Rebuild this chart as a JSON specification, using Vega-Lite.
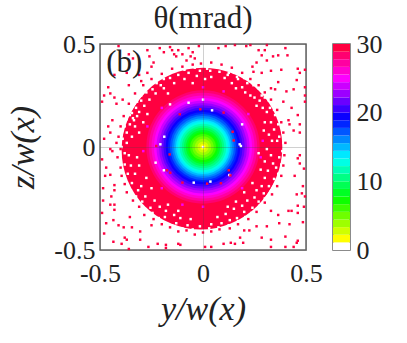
{"$schema":"https://vega.github.io/schema/vega-lite/v6.json","background":"white","padding":{"left":6,"top":2,"right":0,"bottom":0},
"config":{"view":{"stroke":"#666","strokeWidth":1.5},"axis":{"labelFont":"Liberation Serif","titleFont":"Liberation Serif","labelColor":"#222","titleColor":"#222","grid":false,"domain":false}},
"datasets":{
"rings":[{"y":-0.01,"z":-0.015,"r":0.385,"t":29.4},{"y":0,"z":0,"r":0.385,"t":29.4},{"y":0,"z":0,"r":0.275,"t":28.3},{"y":0,"z":0,"r":0.263,"t":27.2},{"y":0,"z":0,"r":0.25,"t":26.1},{"y":0,"z":0,"r":0.238,"t":25},{"y":0,"z":0,"r":0.226,"t":23.9},{"y":0,"z":0,"r":0.214,"t":22.8},{"y":0,"z":0,"r":0.203,"t":21.7},{"y":0,"z":0,"r":0.192,"t":20.5},{"y":0,"z":0,"r":0.181,"t":19.4},{"y":0,"z":0,"r":0.17,"t":18.3},{"y":0,"z":0,"r":0.16,"t":17.2},{"y":0,"z":0,"r":0.15,"t":16.1},{"y":0,"z":0,"r":0.14,"t":15},{"y":0,"z":0,"r":0.131,"t":13.9},{"y":0,"z":0,"r":0.122,"t":12.8},{"y":0,"z":0,"r":0.113,"t":11.7},{"y":0,"z":0,"r":0.103,"t":10.5},{"y":0,"z":0,"r":0.093,"t":9.4},{"y":0,"z":0,"r":0.083,"t":8.3},{"y":0,"z":0,"r":0.073,"t":7.2},{"y":0,"z":0,"r":0.063,"t":6.1},{"y":0,"z":0,"r":0.052,"t":5},{"y":0,"z":0,"r":0.04,"t":3.9},{"y":0,"z":0,"r":0.027,"t":2.8},{"y":0,"z":0,"r":0.014,"t":1.7}],
"bar":[{"a":0,"b":1.11,"t":0.5},{"a":1.11,"b":2.22,"t":1.7},{"a":2.22,"b":3.33,"t":2.8},{"a":3.33,"b":4.44,"t":3.9},{"a":4.44,"b":5.56,"t":5},{"a":5.56,"b":6.67,"t":6.1},{"a":6.67,"b":7.78,"t":7.2},{"a":7.78,"b":8.89,"t":8.3},{"a":8.89,"b":10,"t":9.4},{"a":10,"b":11.11,"t":10.5},{"a":11.11,"b":12.22,"t":11.7},{"a":12.22,"b":13.33,"t":12.8},{"a":13.33,"b":14.44,"t":13.9},{"a":14.44,"b":15.56,"t":15},{"a":15.56,"b":16.67,"t":16.1},{"a":16.67,"b":17.78,"t":17.2},{"a":17.78,"b":18.89,"t":18.3},{"a":18.89,"b":20,"t":19.4},{"a":20,"b":21.11,"t":20.5},{"a":21.11,"b":22.22,"t":21.7},{"a":22.22,"b":23.33,"t":22.8},{"a":23.33,"b":24.44,"t":23.9},{"a":24.44,"b":25.56,"t":25},{"a":25.56,"b":26.67,"t":26.1},{"a":26.67,"b":27.78,"t":27.2},{"a":27.78,"b":28.89,"t":28.3},{"a":28.89,"b":30,"t":29.4}],
"cells":[
{"y":0.02,"z":0.38,"t":0},{"y":0.035,"z":0.37,"t":0},{"y":0.06,"z":0.39,"t":0},{"y":0.08,"z":0.365,"t":0},{"y":0.115,"z":0.38,"t":0},{"y":0.125,"z":0.36,"t":0},{"y":0.15,"z":0.36,"t":0},{"y":0.165,"z":0.34,"t":0},{"y":0.17,"z":0.33,"t":0},{"y":0.2,"z":0.335,"t":0},{"y":0.215,"z":0.31,"t":0},{"y":0.24,"z":0.31,"t":0},{"y":0.245,"z":0.3,"t":0},{"y":0.27,"z":0.285,"t":0},{"y":0.285,"z":0.25,"t":0},{"y":0.3,"z":0.24,"t":0},{"y":0.32,"z":0.225,"t":0},{"y":0.325,"z":0.19,"t":0},{"y":0.345,"z":0.18,"t":0},{"y":0.35,"z":0.155,"t":0},{"y":0.37,"z":0.14,"t":0},{"y":0.365,"z":0.11,"t":0},{"y":0.385,"z":0.07,"t":0},{"y":0.37,"z":0.05,"t":0},{"y":0.39,"z":0.02,"t":0},
{"y":0.04,"z":0.34,"t":0},{"y":0.105,"z":0.335,"t":0},{"y":0.14,"z":0.31,"t":0},{"y":0.19,"z":0.29,"t":0},{"y":0.205,"z":0.265,"t":0},{"y":0.23,"z":0.25,"t":0},{"y":0.275,"z":0.225,"t":0},{"y":0.29,"z":0.19,"t":0},{"y":0.31,"z":0.17,"t":0},{"y":0.33,"z":0.12,"t":0},{"y":0.345,"z":0.085,"t":0},{"y":0.36,"z":0.03,"t":0},{"y":0.16,"z":0.285,"t":0},{"y":0.26,"z":0.2,"t":0},{"y":0.3,"z":0.12,"t":0},{"y":0.32,"z":0.06,"t":0},{"y":0.335,"z":0.03,"t":0},{"y":0.295,"z":0.08,"t":0},{"y":0.25,"z":0.24,"t":0},{"y":0.12,"z":0.35,"t":0},
{"y":0.385,"z":-0.02,"t":0},{"y":0.37,"z":-0.05,"t":0},{"y":0.38,"z":-0.085,"t":0},{"y":0.355,"z":-0.1,"t":0},{"y":0.365,"z":-0.13,"t":0},{"y":0.345,"z":-0.155,"t":0},{"y":0.35,"z":-0.18,"t":0},{"y":0.32,"z":-0.19,"t":0},{"y":0.33,"z":-0.215,"t":0},{"y":0.295,"z":-0.225,"t":0},{"y":0.3,"z":-0.25,"t":0},{"y":0.27,"z":-0.265,"t":0},{"y":0.275,"z":-0.285,"t":0},{"y":0.24,"z":-0.295,"t":0},{"y":0.235,"z":-0.32,"t":0},{"y":0.2,"z":-0.315,"t":0},{"y":0.205,"z":-0.34,"t":0},{"y":0.165,"z":-0.345,"t":0},{"y":0.17,"z":-0.36,"t":0},{"y":0.13,"z":-0.355,"t":0},{"y":0.125,"z":-0.38,"t":0},{"y":0.09,"z":-0.37,"t":0},{"y":0.075,"z":-0.39,"t":0},{"y":0.04,"z":-0.375,"t":0},{"y":0.03,"z":-0.395,"t":0},
{"y":0.33,"z":-0.04,"t":0},{"y":0.34,"z":-0.08,"t":0},{"y":0.315,"z":-0.115,"t":0},{"y":0.3,"z":-0.15,"t":0},{"y":0.285,"z":-0.19,"t":0},{"y":0.26,"z":-0.21,"t":0},{"y":0.25,"z":-0.245,"t":0},{"y":0.215,"z":-0.26,"t":0},{"y":0.19,"z":-0.285,"t":0},{"y":0.15,"z":-0.3,"t":0},{"y":0.11,"z":-0.325,"t":0},{"y":0.07,"z":-0.34,"t":0},{"y":0.3,"z":-0.07,"t":0},{"y":0.28,"z":-0.11,"t":0},{"y":0.24,"z":-0.175,"t":0},{"y":0.2,"z":-0.22,"t":0},{"y":0.16,"z":-0.265,"t":0},{"y":0.12,"z":-0.29,"t":0},{"y":0.31,"z":-0.01,"t":0},{"y":0.27,"z":-0.03,"t":0},
{"y":-0.015,"z":-0.385,"t":0},{"y":-0.05,"z":-0.4,"t":0},{"y":-0.075,"z":-0.38,"t":0},{"y":-0.1,"z":-0.395,"t":0},{"y":-0.13,"z":-0.37,"t":0},{"y":-0.165,"z":-0.38,"t":0},{"y":-0.185,"z":-0.34,"t":0},{"y":-0.215,"z":-0.345,"t":0},{"y":-0.245,"z":-0.32,"t":0},{"y":-0.255,"z":-0.295,"t":0},{"y":-0.29,"z":-0.3,"t":0},{"y":-0.295,"z":-0.265,"t":0},{"y":-0.325,"z":-0.24,"t":0},{"y":-0.315,"z":-0.21,"t":0},{"y":-0.35,"z":-0.21,"t":0},{"y":-0.345,"z":-0.175,"t":0},{"y":-0.375,"z":-0.165,"t":0},{"y":-0.365,"z":-0.13,"t":0},{"y":-0.39,"z":-0.12,"t":0},{"y":-0.38,"z":-0.085,"t":0},{"y":-0.4,"z":-0.06,"t":0},{"y":-0.38,"z":-0.03,"t":0},
{"y":-0.06,"z":-0.35,"t":0},{"y":-0.11,"z":-0.345,"t":0},{"y":-0.14,"z":-0.33,"t":0},{"y":-0.18,"z":-0.31,"t":0},{"y":-0.21,"z":-0.29,"t":0},{"y":-0.235,"z":-0.26,"t":0},{"y":-0.28,"z":-0.24,"t":0},{"y":-0.3,"z":-0.19,"t":0},{"y":-0.33,"z":-0.13,"t":0},{"y":-0.35,"z":-0.09,"t":0},{"y":-0.36,"z":-0.04,"t":0},{"y":-0.12,"z":-0.31,"t":0},{"y":-0.17,"z":-0.28,"t":0},{"y":-0.25,"z":-0.2,"t":0},{"y":-0.31,"z":-0.09,"t":0},{"y":-0.32,"z":-0.05,"t":0},{"y":-0.275,"z":-0.15,"t":0},
{"y":-0.395,"z":0,"t":0},{"y":-0.37,"z":0.02,"t":0},{"y":-0.39,"z":0.04,"t":0},{"y":-0.37,"z":0.07,"t":0},{"y":-0.38,"z":0.1,"t":0},{"y":-0.355,"z":0.11,"t":0},{"y":-0.37,"z":0.135,"t":0},{"y":-0.345,"z":0.165,"t":0},{"y":-0.35,"z":0.185,"t":0},{"y":-0.325,"z":0.19,"t":0},{"y":-0.32,"z":0.22,"t":0},{"y":-0.3,"z":0.225,"t":0},{"y":-0.3,"z":0.25,"t":0},{"y":-0.275,"z":0.265,"t":0},{"y":-0.27,"z":0.29,"t":0},{"y":-0.245,"z":0.28,"t":0},{"y":-0.225,"z":0.31,"t":0},{"y":-0.205,"z":0.3,"t":0},{"y":-0.19,"z":0.33,"t":0},{"y":-0.16,"z":0.335,"t":0},{"y":-0.15,"z":0.365,"t":0},{"y":-0.12,"z":0.35,"t":0},{"y":-0.09,"z":0.375,"t":0},{"y":-0.07,"z":0.36,"t":0},{"y":-0.04,"z":0.385,"t":0},{"y":-0.015,"z":0.37,"t":0},
{"y":-0.345,"z":0.05,"t":0},{"y":-0.33,"z":0.1,"t":0},{"y":-0.34,"z":0.14,"t":0},{"y":-0.32,"z":0.15,"t":0},{"y":-0.355,"z":0.155,"t":0},{"y":-0.335,"z":0.13,"t":0},{"y":-0.31,"z":0.17,"t":0},{"y":-0.285,"z":0.2,"t":0},{"y":-0.26,"z":0.23,"t":0},{"y":-0.23,"z":0.26,"t":0},{"y":-0.19,"z":0.285,"t":0},{"y":-0.14,"z":0.31,"t":0},{"y":-0.09,"z":0.33,"t":0},{"y":-0.03,"z":0.345,"t":0},{"y":-0.31,"z":0.07,"t":0},{"y":-0.29,"z":0.12,"t":0},{"y":-0.27,"z":0.16,"t":0},{"y":-0.17,"z":0.26,"t":0},{"y":-0.05,"z":0.31,"t":0},{"y":0.01,"z":0.33,"t":0},
{"y":-0.23,"z":-0.076,"t":0},{"y":-0.19,"z":-0.113,"t":0},{"y":-0.207,"z":0.013,"t":0},{"y":-0.188,"z":0.05,"t":0},{"y":-0.045,"z":-0.173,"t":0},{"y":0.036,"z":-0.168,"t":0},{"y":0.128,"z":-0.136,"t":0},{"y":0.178,"z":0.013,"t":0},{"y":0.184,"z":0.005,"t":0},{"y":0.19,"z":0.11,"t":0},{"y":0.044,"z":0.178,"t":0},{"y":-0.07,"z":0.215,"t":0},{"y":0,"z":0.23,"t":0},{"y":-0.16,"z":0.207,"t":0},{"y":0,"z":0,"t":0},
{"y":0.144,"z":0.074,"t":30},{"y":0.149,"z":0.032,"t":30},{"y":-0.175,"z":-0.113,"t":30},{"y":-0.159,"z":-0.125,"t":30},{"y":0.125,"z":-0.113,"t":30},{"y":0.087,"z":-0.176,"t":30},{"y":0.02,"z":-0.178,"t":30},{"y":-0.1,"z":-0.173,"t":30},{"y":-0.013,"z":0.183,"t":30},{"y":0.1,"z":0.167,"t":30},{"y":-0.113,"z":0.159,"t":30},{"y":-0.227,"z":0.005,"t":30},{"y":0.133,"z":-0.138,"t":30},{"y":-0.162,"z":-0.036,"t":30},
{"y":-0.27,"z":0.1,"t":25},{"y":0.28,"z":-0.05,"t":25},{"y":0.1,"z":0.27,"t":25},{"y":-0.1,"z":-0.28,"t":25},{"y":0.22,"z":0.16,"t":25},{"y":-0.2,"z":-0.2,"t":25},{"y":0.19,"z":-0.2,"t":25},{"y":-0.2,"z":0.19,"t":25},{"y":-0.29,"z":-0.02,"t":25},{"y":0,"z":0.29,"t":25},{"y":0,"z":-0.29,"t":25},{"y":0.29,"z":0.03,"t":25},
{"y":-0.41,"z":0.05,"t":30},{"y":-0.4,"z":-0.01,"t":30},{"y":-0.415,"z":-0.05,"t":30},{"y":-0.4,"z":-0.1,"t":30},{"y":-0.395,"z":-0.14,"t":30},{"y":-0.38,"z":-0.18,"t":30},{"y":-0.37,"z":-0.22,"t":30},{"y":-0.34,"z":-0.26,"t":30},{"y":-0.31,"z":-0.29,"t":30},{"y":-0.285,"z":-0.33,"t":30},{"y":-0.24,"z":-0.35,"t":30},{"y":-0.2,"z":-0.375,"t":30},{"y":-0.16,"z":-0.39,"t":30},{"y":-0.12,"z":-0.41,"t":30},{"y":-0.08,"z":-0.405,"t":30},{"y":-0.04,"z":-0.425,"t":30},{"y":0,"z":-0.415,"t":30},{"y":0.04,"z":-0.41,"t":30},{"y":0.08,"z":-0.4,"t":30},{"y":0.13,"z":-0.395,"t":30},{"y":0.17,"z":-0.375,"t":30},{"y":0.22,"z":-0.35,"t":30},{"y":0.26,"z":-0.315,"t":30},{"y":0.3,"z":-0.27,"t":30},{"y":0.335,"z":-0.23,"t":30},{"y":0.36,"z":-0.19,"t":30},{"y":0.38,"z":-0.14,"t":30},{"y":0.39,"z":-0.09,"t":30},{"y":0.395,"z":-0.04,"t":30},{"y":0.4,"z":0.02,"t":30},{"y":0.39,"z":0.07,"t":30},{"y":0.38,"z":0.12,"t":30},{"y":0.36,"z":0.18,"t":30},{"y":0.33,"z":0.23,"t":30},{"y":0.3,"z":0.265,"t":30},{"y":0.27,"z":0.3,"t":30},{"y":0.23,"z":0.33,"t":30},{"y":0.19,"z":0.36,"t":30},{"y":0.14,"z":0.385,"t":30},{"y":0.09,"z":0.4,"t":30},{"y":0.04,"z":0.41,"t":30},{"y":-0.01,"z":0.405,"t":30},{"y":-0.05,"z":0.4,"t":30},{"y":-0.1,"z":0.39,"t":30},{"y":-0.15,"z":0.38,"t":30},{"y":-0.2,"z":0.355,"t":30},{"y":-0.25,"z":0.33,"t":30},{"y":-0.29,"z":0.3,"t":30},{"y":-0.33,"z":0.26,"t":30},{"y":-0.36,"z":0.21,"t":30},{"y":-0.385,"z":0.15,"t":30},{"y":-0.4,"z":0.1,"t":30},
{"y":-0.41,"z":0.49,"t":30},{"y":-0.36,"z":0.45,"t":30},{"y":-0.34,"z":0.43,"t":30},{"y":-0.27,"z":0.47,"t":30},{"y":-0.26,"z":0.44,"t":30},{"y":-0.24,"z":0.41,"t":30},{"y":-0.21,"z":0.48,"t":30},{"y":-0.19,"z":0.46,"t":30},{"y":-0.16,"z":0.485,"t":30},{"y":-0.15,"z":0.47,"t":30},{"y":-0.14,"z":0.45,"t":30},{"y":-0.13,"z":0.44,"t":30},{"y":-0.12,"z":0.47,"t":30},{"y":-0.1,"z":0.45,"t":30},{"y":-0.08,"z":0.42,"t":30},{"y":-0.07,"z":0.48,"t":30},{"y":-0.06,"z":0.44,"t":30},{"y":-0.05,"z":0.46,"t":30},{"y":-0.04,"z":0.43,"t":30},{"y":-0.02,"z":0.49,"t":30},{"y":-0.25,"z":0.39,"t":30},{"y":-0.43,"z":0.35,"t":30},{"y":-0.46,"z":0.29,"t":30},{"y":-0.48,"z":0.25,"t":30},{"y":-0.45,"z":0.26,"t":30},{"y":-0.43,"z":0.24,"t":30},{"y":-0.49,"z":0.22,"t":30},{"y":-0.42,"z":0.21,"t":30},{"y":-0.39,"z":0.23,"t":30},{"y":-0.36,"z":0.3,"t":30},{"y":-0.37,"z":0.36,"t":30},{"y":-0.31,"z":0.35,"t":30},{"y":-0.3,"z":0.32,"t":30},{"y":-0.27,"z":0.36,"t":30},{"y":-0.44,"z":0.13,"t":30},{"y":-0.46,"z":0.1,"t":30},{"y":-0.48,"z":0.04,"t":30},{"y":-0.45,"z":0.07,"t":30},{"y":-0.42,"z":0.02,"t":30},{"y":-0.44,"z":-0.02,"t":30},
{"y":0.11,"z":0.49,"t":30},{"y":0.075,"z":0.48,"t":30},{"y":0.155,"z":0.495,"t":30},{"y":0.21,"z":0.49,"t":30},{"y":0.23,"z":0.495,"t":30},{"y":0.31,"z":0.495,"t":30},{"y":0.4,"z":0.48,"t":30},{"y":0.27,"z":0.47,"t":30},{"y":0.3,"z":0.47,"t":30},{"y":0.285,"z":0.445,"t":30},{"y":0.365,"z":0.445,"t":30},{"y":0.34,"z":0.44,"t":30},{"y":0.26,"z":0.41,"t":30},{"y":0.31,"z":0.42,"t":30},{"y":0.41,"z":0.445,"t":30},{"y":0.24,"z":0.39,"t":30},{"y":0.46,"z":0.38,"t":30},{"y":0.495,"z":0.375,"t":30},{"y":0.38,"z":0.375,"t":30},{"y":0.33,"z":0.37,"t":30},{"y":0.285,"z":0.36,"t":30},{"y":0.245,"z":0.365,"t":30},{"y":0.47,"z":0.36,"t":30},{"y":0.455,"z":0.325,"t":30},{"y":0.365,"z":0.315,"t":30},{"y":0.495,"z":0.29,"t":30},{"y":0.405,"z":0.27,"t":30},{"y":0.44,"z":0.28,"t":30},{"y":0.33,"z":0.285,"t":30},{"y":0.35,"z":0.28,"t":30},{"y":0.495,"z":0.25,"t":30},{"y":0.495,"z":0.22,"t":30},{"y":0.39,"z":0.22,"t":30},{"y":0.43,"z":0.19,"t":30},{"y":0.46,"z":0.155,"t":30},{"y":0.47,"z":0.11,"t":30},{"y":0.415,"z":0.13,"t":30},{"y":0.44,"z":0.08,"t":30},{"y":0.42,"z":0.11,"t":30},{"y":0.47,"z":0.07,"t":30},
{"y":-0.45,"z":-0.01,"t":30},{"y":-0.49,"z":-0.06,"t":30},{"y":-0.47,"z":-0.1,"t":30},{"y":-0.475,"z":-0.14,"t":30},{"y":-0.45,"z":-0.135,"t":30},{"y":-0.43,"z":-0.185,"t":30},{"y":-0.485,"z":-0.2,"t":30},{"y":-0.43,"z":-0.21,"t":30},{"y":-0.485,"z":-0.26,"t":30},{"y":-0.445,"z":-0.24,"t":30},{"y":-0.45,"z":-0.28,"t":30},{"y":-0.43,"z":-0.28,"t":30},{"y":-0.49,"z":-0.32,"t":30},{"y":-0.43,"z":-0.305,"t":30},{"y":-0.355,"z":-0.34,"t":30},{"y":-0.47,"z":-0.37,"t":30},{"y":-0.435,"z":-0.355,"t":30},{"y":-0.41,"z":-0.38,"t":30},{"y":-0.385,"z":-0.39,"t":30},{"y":-0.48,"z":-0.42,"t":30},{"y":-0.345,"z":-0.39,"t":30},{"y":-0.305,"z":-0.41,"t":30},{"y":-0.435,"z":-0.46,"t":30},{"y":-0.38,"z":-0.44,"t":30},{"y":-0.395,"z":-0.47,"t":30},{"y":-0.37,"z":-0.45,"t":30},{"y":-0.36,"z":-0.495,"t":30},{"y":-0.305,"z":-0.45,"t":30},{"y":-0.265,"z":-0.485,"t":30},{"y":-0.22,"z":-0.47,"t":30},{"y":-0.18,"z":-0.475,"t":30},{"y":-0.12,"z":-0.47,"t":30},{"y":-0.11,"z":-0.475,"t":30},{"y":-0.18,"z":-0.49,"t":30},{"y":-0.25,"z":-0.38,"t":30},
{"y":0.47,"z":-0.04,"t":30},{"y":0.46,"z":-0.055,"t":30},{"y":0.47,"z":-0.08,"t":30},{"y":0.49,"z":-0.105,"t":30},{"y":0.445,"z":-0.14,"t":30},{"y":0.485,"z":-0.19,"t":30},{"y":0.48,"z":-0.225,"t":30},{"y":0.495,"z":-0.24,"t":30},{"y":0.455,"z":-0.23,"t":30},{"y":0.46,"z":-0.285,"t":30},{"y":0.49,"z":-0.29,"t":30},{"y":0.415,"z":-0.31,"t":30},{"y":0.43,"z":-0.31,"t":30},{"y":0.46,"z":-0.32,"t":30},{"y":0.365,"z":-0.33,"t":30},{"y":0.33,"z":-0.31,"t":30},{"y":0.42,"z":-0.375,"t":30},{"y":0.485,"z":-0.365,"t":30},{"y":0.37,"z":-0.37,"t":30},{"y":0.31,"z":-0.385,"t":30},{"y":0.26,"z":-0.385,"t":30},{"y":0.285,"z":-0.44,"t":30},{"y":0.2,"z":-0.405,"t":30},{"y":0.33,"z":-0.45,"t":30},{"y":0.4,"z":-0.435,"t":30},{"y":0.46,"z":-0.455,"t":30},{"y":0.455,"z":-0.465,"t":30},{"y":0.33,"z":-0.485,"t":30},{"y":0.4,"z":-0.485,"t":30},{"y":0.44,"z":-0.485,"t":30},{"y":0.195,"z":-0.465,"t":30},{"y":0.18,"z":-0.44,"t":30},{"y":0.155,"z":-0.47,"t":30},{"y":0.135,"z":-0.465,"t":30},{"y":0.1,"z":-0.47,"t":30},{"y":0.04,"z":-0.485,"t":30},{"y":0.01,"z":-0.485,"t":30},{"y":0.225,"z":-0.405,"t":30}
]},
"hconcat":[{
"width":206,"height":206,
"title":{"text":"θ(mrad)","font":"Liberation Serif","fontSize":31,"fontWeight":"normal","color":"#222","anchor":"middle","offset":-4},
"encoding":{
"x":{"field":"y","type":"quantitative","scale":{"domain":[-0.5,0.5],"nice":false},"axis":{"title":"y/w(x)","titleFontStyle":"italic","titleFontSize":34,"titleFontWeight":"normal","labelFontSize":26,"values":[-0.5,0,0.5],"labelExpr":"datum.value<0?'-0.5':datum.value>0?'0.5':'0'","tickSize":0,"labelPadding":10,"titlePadding":6,"labelOverlap":false,"labelBound":false,"labelFlush":false,"grid":true,"gridColor":"#444","gridOpacity":0.25,"zindex":1}},
"y":{"field":"z","type":"quantitative","scale":{"domain":[-0.5,0.5],"nice":false},"axis":{"title":"z/w(x)","titleFontStyle":"italic","titleFontSize":34,"titleFontWeight":"normal","labelFontSize":26,"values":[-0.5,0,0.5],"labelExpr":"datum.value<0?'-0.5':datum.value>0?'0.5':'0'","tickSize":0,"labelPadding":5,"titlePadding":13,"labelOverlap":false,"labelBound":false,"labelFlush":false,"grid":true,"gridColor":"#444","gridOpacity":0.25,"zindex":1}}
},
"layer":[
{"data":{"name":"rings"},"mark":{"type":"circle","opacity":1},"encoding":{
"size":{"field":"r","type":"quantitative","legend":null,"scale":{"type":"pow","exponent":2,"domain":[0,0.5],"range":[0,42436]}},
"color":{"field":"t","type":"quantitative","legend":null,"scale":{"type":"threshold","domain":[1.11,2.22,3.33,4.44,5.56,6.67,7.78,8.89,10,11.11,12.22,13.33,14.44,15.56,16.67,17.78,18.89,20,21.11,22.22,23.33,24.44,25.56,26.67,27.78,28.89],"range":["#ffffff","#ffff00","#cfff00","#9eff00","#6eff00","#3dff00","#0dff00","#00ff24","#00ff54","#00ff84","#00ffb5","#00ffe5","#00e8ff","#00b8ff","#0087ff","#0057ff","#0026ff","#0a00ff","#3b00ff","#6b00ff","#9c00ff","#cc00ff","#fc00ff","#ff00d1","#ff00a1","#ff0070","#ff0040"]}}}},
{"data":{"name":"cells"},"mark":{"type":"square","size":6,"opacity":1},"encoding":{
"color":{"field":"t","type":"quantitative","legend":null,"scale":{"type":"threshold","domain":[1.11,2.22,3.33,4.44,5.56,6.67,7.78,8.89,10,11.11,12.22,13.33,14.44,15.56,16.67,17.78,18.89,20,21.11,22.22,23.33,24.44,25.56,26.67,27.78,28.89],"range":["#ffffff","#ffff00","#cfff00","#9eff00","#6eff00","#3dff00","#0dff00","#00ff24","#00ff54","#00ff84","#00ffb5","#00ffe5","#00e8ff","#00b8ff","#0087ff","#0057ff","#0026ff","#0a00ff","#3b00ff","#6b00ff","#9c00ff","#cc00ff","#fc00ff","#ff00d1","#ff00a1","#ff0070","#ff0040"]}}}},
{"data":{"values":[{"y":-0.47,"z":0.41,"label":"(b)"}]},"mark":{"type":"text","align":"left","baseline":"middle","font":"Liberation Serif","fontSize":31,"color":"#222"},"encoding":{"text":{"field":"label"}}}
]},
{"width":17,"height":206,"data":{"name":"bar"},
"mark":{"type":"rect"},
"encoding":{
"x":{"value":0},"x2":{"value":17},
"y":{"field":"a","type":"quantitative","scale":{"domain":[0,30],"nice":false},"axis":{"orient":"right","title":null,"values":[0,10,20,30],"labelFontSize":26,"tickSize":0,"labelPadding":6,"labelOverlap":false,"labelBound":false,"labelFlush":false}},
"y2":{"field":"b"},
"color":{"field":"t","type":"quantitative","legend":null,"scale":{"type":"threshold","domain":[1.11,2.22,3.33,4.44,5.56,6.67,7.78,8.89,10,11.11,12.22,13.33,14.44,15.56,16.67,17.78,18.89,20,21.11,22.22,23.33,24.44,25.56,26.67,27.78,28.89],"range":["#ffffff","#ffff00","#cfff00","#9eff00","#6eff00","#3dff00","#0dff00","#00ff24","#00ff54","#00ff84","#00ffb5","#00ffe5","#00e8ff","#00b8ff","#0087ff","#0057ff","#0026ff","#0a00ff","#3b00ff","#6b00ff","#9c00ff","#cc00ff","#fc00ff","#ff00d1","#ff00a1","#ff0070","#ff0040"]}}
}}
],
"spacing":27,"bounds":"flush","resolve":{"scale":{"color":"independent","x":"independent","y":"independent"}}}
